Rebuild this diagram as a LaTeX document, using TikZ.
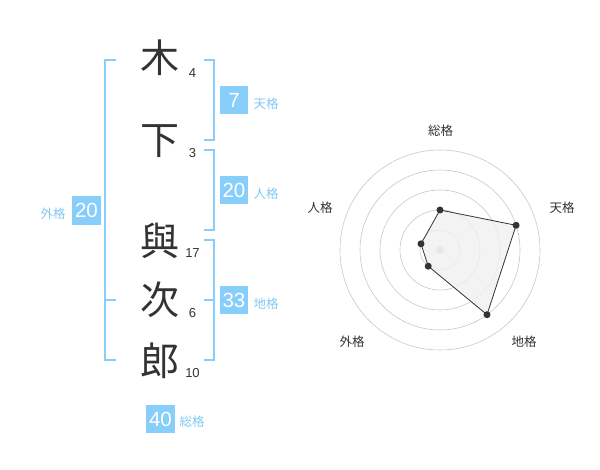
\documentclass[tikz,border=0pt]{standalone}
\usepackage{fontspec}
\setmainfont{Liberation Sans}
\newfontfamily\cjk{Noto Sans CJK JP}
\definecolor{skyb}{RGB}{135,206,250}
\definecolor{skyt}{RGB}{130,200,245}
\definecolor{ink}{RGB}{51,51,51}
\definecolor{ringc}{RGB}{200,200,200}
\definecolor{polyf}{RGB}{240,240,240}
\begin{document}
\begin{tikzpicture}[x=1pt,y=-1pt,
  kanji/.style={font=\cjk\fontsize{39}{39}\selectfont, text=ink, inner sep=0pt},
  strokes/.style={font=\fontsize{13}{13}\selectfont, text=ink, inner sep=0pt},
  numbox/.style={fill=skyb, text=white, font=\fontsize{20.5}{20.5}\selectfont, minimum width=28.5pt, minimum height=28.5pt, inner sep=0pt},
  kaku/.style={font=\cjk\fontsize{12.5}{12.5}\selectfont, text=skyt, inner sep=0pt},
  bracket/.style={draw=skyb, line width=2pt},
  ring/.style={draw=ringc, line width=0.6pt},
  rlabel/.style={font=\cjk\fontsize{12.5}{12.5}\selectfont, text=ink, inner sep=0pt},
  vdot/.style={circle, fill=ink, inner sep=0pt, minimum size=7pt}]
\useasboundingbox (0,0) rectangle (600,470);
% kanji
\node[kanji] (k1) at (160,58) {木};
\node[kanji] (k2) at (160,141) {下};
\node[kanji] (k3) at (160,241) {與};
\node[kanji] (k4) at (160,300) {次};
\node[kanji] (k5) at (160,361) {郎};
% stroke counts
\node[strokes] (s1) at (192.5,73) {4};
\node[strokes] (s2) at (192.5,153) {3};
\node[strokes] (s3) at (192.5,253) {17};
\node[strokes] (s4) at (192.5,313) {6};
\node[strokes] (s5) at (192.5,373) {10};
% brackets
\draw[bracket] (116,60) -- (105,60) -- (105,360) -- (116,360);
\draw[bracket] (105,300) -- (116,300);
\draw[bracket] (204,60) -- (214,60) -- (214,140) -- (204,140);
\draw[bracket] (204,150) -- (214,150) -- (214,230) -- (204,230);
\draw[bracket] (204,240) -- (214,240) -- (214,360) -- (204,360);
\draw[bracket] (204,300) -- (214,300);
% boxes
\node[numbox] (ten) at (234,100) {7};
\node[kaku] (tenl) at (266,104) {天格};
\node[numbox] (jin) at (234,190) {20};
\node[kaku] (jinl) at (266,194) {人格};
\node[numbox] (chi) at (234,300) {33};
\node[kaku] (chil) at (266,304) {地格};
\node[numbox] (gai) at (86.5,210.5) {20};
\node[kaku] (gail) at (53,214) {外格};
\node[numbox] (sou) at (160.5,419) {40};
\node[kaku] (soul) at (192,422) {総格};
% radar
\coordinate (c) at (440,250);
\foreach \r in {20,40,60,80,100} \draw[ring] (c) circle[radius=\r];
\node[circle, fill=ringc, inner sep=0pt, minimum size=8pt] (cd) at (c) {};
\coordinate (p1) at (440,210);
\coordinate (p2) at (516.1,225.3);
\coordinate (p3) at (487.0,314.7);
\coordinate (p4) at (428.2,266.2);
\coordinate (p5) at (421.0,243.8);
\filldraw[fill=polyf, fill opacity=0.8, draw=ink, line width=0.8pt] (p1) -- (p2) -- (p3) -- (p4) -- (p5) -- cycle;
\foreach \p in {p1,p2,p3,p4,p5} \node[vdot] at (\p) {};
\node[rlabel] (r1) at (440.5,130.5) {総格};
\node[rlabel] (r2) at (562,208) {天格};
\node[rlabel] (r3) at (524,342) {地格};
\node[rlabel] (r4) at (352,342) {外格};
\node[rlabel] (r5) at (320,208) {人格};
\end{tikzpicture}
\end{document}
